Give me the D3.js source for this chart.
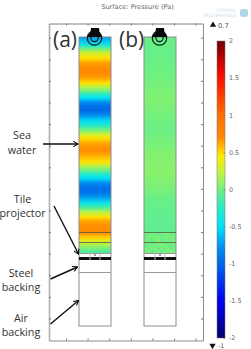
<!DOCTYPE html>
<html>
<head>
<meta charset="utf-8">
<script src="https://cdn.jsdelivr.net/npm/d3@7"></script>
<style>
html,body{margin:0;padding:0;background:#fff;}
svg{display:block;}
</style>
</head>
<body>
<svg id="chart" width="251" height="349"></svg>
<script>
// Depth below the water surface, in drawing units, with pressure read along the column.
const depthsA = [0,4,8,12,16,21,26,32,37,41,46,50,54,58,61,65,69,73,78,83,88,93,97,101,107,113,117,125,129,133,137,141,146,151,156,161,166,171,175,180,184,188,195,198,201,205,209,213,216];
const pressureA = [-0.72,-0.6,-0.35,0,0.3,0.47,0.64,0.7,0.7,0.64,0.47,0.2,0,-0.3,-0.5,-0.78,-0.95,-1,-0.82,-0.55,-0.3,0,0.25,0.47,0.64,0.7,0.64,0.47,0.2,0,-0.25,-0.5,-0.8,-0.97,-0.92,-0.7,-0.42,-0.1,0.2,0.47,0.62,0.68,0.7,0.62,0.5,0.3,0.12,-0.05,-0.12];
const depthsB = [0,20,40,60,75,90,105,120,135,150,165,185,195,216];
const pressureB = [-0.02,-0.03,0,0.05,0.02,-0.02,0.02,0.06,0.07,0.03,-0.03,-0.06,-0.05,-0.02];

// Mottled pressure inside the tile projector layers of the second column.
const mottleUpper = [
  [0.12,-0.02,0.15,0.02,-0.05,0.14,0.05,0.18,-0.03,0.1],
  [-0.04,0.16,0.03,0.18,0.06,-0.05,0.16,0.02,0.12,0.0],
  [0.14,0.04,-0.05,0.1,0.2,0.03,-0.04,0.12,0.06,0.15]
];
const mottleLower = [
  [0.05,0.16,-0.04,0.12,0.0,0.18,0.04,-0.08,0.14,0.02],
  [-0.1,0.04,0.18,-0.06,0.14,-0.02,0.2,0.06,-0.1,0.1],
  [0.16,-0.08,0.06,0.2,-0.1,0.1,-0.06,0.16,0.02,-0.05],
  [0.02,0.14,-0.12,0.04,0.16,-0.08,0.12,-0.04,0.18,0.06]
];

// Colour bar values and matching rainbow colours.
const legendTicks = [2,1.5,1,0.5,0,-0.5,-1,-1.5,-2];
const paletteValues = [2,1.75,1.5,1,0.7,0.45,0.2,0,-0.25,-0.5,-0.75,-1,-1.5,-2];
const paletteColors = ["#6e0000","#c00000","#ff1000","#ff7000","#ff8a00","#ffea00","#b8f24a","#70f080","#28e8c8","#00e2f4","#0096f0","#0068e8","#0000f0","#00006e"];
const pressureMax = 0.7;
const pressureMin = -1;

// Frame tick positions in the same units as the depths, and labelled column layers.
const frameDepthTicks = d3.range(0.7, 303, 21.6);
const frameWidthTicks = [17,38.6,60.2,81.8,103.4,125,146.6];
const columnLeft = [30,95];
const columnWidth = 32;
const layerDepths = {projector:195, upper:205, tileEnd:216, steelTop:220, steelEnd:223, airTop:235, end:289};
const columnCaptions = ["(a)","(b)"];
const calloutLines = [
  {lines:["Sea","water"], cx:22, y:[139,154]},
  {lines:["Tile","projector"], cx:22.5, y:[203,217]},
  {lines:["Steel","backing"], cx:21, y:[277,291]},
  {lines:["Air","backing"], cx:21, y:[322,336]}
];
const calloutArrows = [
  [[43,144],[78,144]],
  [[54,206],[78.5,254]],
  [[50.5,279],[77.5,267]],
  [[50.5,324],[78.5,300.5]]
];

const svg = d3.select("#chart");
const defs = svg.append("defs");

const x = d3.scaleLinear().domain([0,154]).range([49,203]);
const y = d3.scaleLinear().domain([-13.5,303.5]).range([23.5,340.5]);
const colour = d3.scaleLinear().domain(paletteValues).range(paletteColors).interpolate(d3.interpolateRgb).clamp(true);
const legendY = d3.scaleLinear().domain([-2,2]).range([338,41]);

function addGradient(id, depths, values){
  const top = depths[0], bottom = depths[depths.length-1];
  const g = defs.append("linearGradient").attr("id",id).attr("x1",0).attr("x2",0).attr("y1",0).attr("y2",1);
  g.selectAll("stop").data(values).join("stop")
    .attr("offset",(d,i)=>(depths[i]-top)/(bottom-top))
    .attr("stop-color",d=>colour(d));
}
addGradient("fieldA",depthsA,pressureA);
addGradient("fieldB",depthsB,pressureB);

// Pressure fields
svg.selectAll("rect.field").data(["fieldA","fieldB"]).join("rect")
  .attr("class","field")
  .attr("x",(d,i)=>x(columnLeft[i]))
  .attr("y",y(0))
  .attr("width",x(columnWidth)-x(0))
  .attr("height",y(layerDepths.tileEnd)-y(0))
  .attr("fill",d=>`url(#${d})`);

// Mottling over the lower layers of column b
function drawMottle(rows, fromDepth, toDepth){
  const bandY = d3.scaleBand().domain(d3.range(rows.length)).range([y(fromDepth),y(toDepth)]);
  const bandX = d3.scaleBand().domain(d3.range(rows[0].length)).range([x(columnLeft[1]),x(columnLeft[1]+columnWidth)]);
  rows.forEach((row,r)=>{
    svg.append("g").selectAll("rect").data(row).join("rect")
      .attr("x",(d,c)=>bandX(c)).attr("y",bandY(r))
      .attr("width",bandX.bandwidth()).attr("height",bandY.bandwidth())
      .attr("fill",d=>colour(d)).attr("opacity",0.4);
  });
}
drawMottle(mottleUpper,layerDepths.projector,layerDepths.upper);
drawMottle(mottleLower,layerDepths.upper,layerDepths.tileEnd);

// Column geometry: outlines, layer boundaries and the steel band
columnLeft.forEach(left=>{
  const L = x(left), R = x(left+columnWidth);
  const g = svg.append("g");
  g.append("rect").attr("x",L).attr("y",y(0)).attr("width",R-L).attr("height",y(layerDepths.end)-y(0))
    .attr("fill","none").attr("stroke","#8c8c8c").attr("stroke-width",1);
  [layerDepths.projector,layerDepths.upper].forEach(d=>{
    g.append("line").attr("x1",L).attr("x2",R).attr("y1",y(d)+.5).attr("y2",y(d)+.5)
      .attr("stroke","#5a5a40").attr("stroke-width",1).attr("opacity",.8);
  });
  [layerDepths.tileEnd,layerDepths.airTop].forEach(d=>{
    g.append("line").attr("x1",L).attr("x2",R).attr("y1",y(d)+.5).attr("y2",y(d)+.5)
      .attr("stroke","#999").attr("stroke-width",1);
  });
  g.append("rect").attr("x",L).attr("y",y(layerDepths.steelTop)).attr("width",R-L)
    .attr("height",y(layerDepths.steelEnd)-y(layerDepths.steelTop)).attr("fill","#111");
  [11,21].forEach(off=>{
    g.append("line").attr("x1",x(left+off)).attr("x2",x(left+off))
      .attr("y1",y(layerDepths.tileEnd)).attr("y2",y(layerDepths.steelEnd))
      .attr("stroke","#bbb").attr("stroke-width",1);
  });
  g.append("circle").attr("cx",x(left+16)).attr("cy",y(layerDepths.tileEnd+2)).attr("r",.8).attr("fill","#222");

  // Source at the head of the column
  const cx = x(left+16), cy = y(1);
  g.append("circle").attr("cx",cx-.5).attr("cy",cy).attr("r",7.2).attr("fill","none").attr("stroke","#0b1a22").attr("stroke-width",1.3);
  g.append("circle").attr("cx",cx-.5).attr("cy",cy).attr("r",3.6).attr("fill","none").attr("stroke","#0b1a22").attr("stroke-width",1.2);
  const head = d3.path();
  head.moveTo(cx-4,y(-9)); head.lineTo(cx+4,y(-9)); head.lineTo(cx+4.5,y(-5));
  head.lineTo(cx+7.5,y(0)); head.lineTo(cx-8,y(0)); head.lineTo(cx-4.5,y(-5)); head.closePath();
  g.append("path").attr("d",head.toString()).attr("fill","#0a0a0a");
});

// Frame axes
function styleAxis(sel, colourName, width){
  sel.selectAll("path").attr("stroke",colourName).attr("stroke-width",width);
  sel.selectAll("line").attr("stroke","#777").attr("stroke-width",1);
  sel.selectAll("text").remove();
}
const blank = ()=>"";
svg.append("g").attr("transform","translate(49,0)")
  .call(d3.axisRight(y).tickValues(frameDepthTicks).tickSizeInner(2).tickSizeOuter(0).tickFormat(blank))
  .call(styleAxis,"#b0b0b0",1.6);
svg.append("g").attr("transform","translate(203,0)")
  .call(d3.axisLeft(y).tickValues(frameDepthTicks).tickSizeInner(2).tickSizeOuter(0).tickFormat(blank))
  .call(styleAxis,"#8c8c8c",1);
svg.append("g").attr("transform","translate(0,23.5)")
  .call(d3.axisBottom(x).tickValues(frameWidthTicks).tickSizeInner(2).tickSizeOuter(0).tickFormat(blank))
  .call(styleAxis,"#808080",1);
svg.append("g").attr("transform","translate(0,340.5)")
  .call(d3.axisTop(x).tickValues(frameWidthTicks).tickSizeInner(2).tickSizeOuter(0).tickFormat(blank))
  .call(styleAxis,"#8c8c8c",1);

// Title
svg.append("text").attr("x",137.5).attr("y",8.5).attr("text-anchor","middle")
  .attr("font-family","DejaVu Sans").attr("font-size",6.6).attr("fill","#666")
  .text("Surface: Pressure (Pa)");

// Faint product mark in the corner
const mark = svg.append("g").attr("font-family","DejaVu Sans").attr("fill","#c9dcec").attr("text-anchor","end");
mark.append("text").attr("x",236).attr("y",11.5).attr("font-size",4.6).text("COMSOL");
mark.append("text").attr("x",236).attr("y",16.5).attr("font-size",4.6).text("MULTIPHYSICS");
svg.append("rect").attr("x",240).attr("y",9).attr("width",8).attr("height",8).attr("rx",2.5).attr("fill","#b4d4e8");

// Column captions
svg.selectAll("text.caption").data(columnCaptions).join("text").attr("class","caption")
  .attr("x",(d,i)=>[53,119][i]).attr("y",47)
  .attr("font-family","Open Sans").attr("font-size",21).attr("fill","#333")
  .text(d=>d);

// Callout labels
calloutLines.forEach(c=>{
  c.lines.forEach((t,i)=>{
    svg.append("text").attr("x",c.cx).attr("y",c.y[i]).attr("text-anchor","middle")
      .attr("font-family","Open Sans").attr("font-size",10.8).attr("fill","#333").text(t);
  });
});

// Callout arrows
defs.append("marker").attr("id","tip").attr("viewBox","0 0 10 10").attr("refX",9).attr("refY",5)
  .attr("markerWidth",6).attr("markerHeight",6).attr("orient","auto").attr("markerUnits","userSpaceOnUse")
  .append("path").attr("d","M1,0.5 L9,5 L1,9.5").attr("fill","none").attr("stroke","#111").attr("stroke-width",1.8);
const arrowLine = d3.line();
svg.selectAll("path.arrow").data(calloutArrows).join("path").attr("class","arrow")
  .attr("d",arrowLine).attr("fill","none").attr("stroke","#111").attr("stroke-width",1.4)
  .attr("marker-end","url(#tip)");

// Colour bar
const barGrad = defs.append("linearGradient").attr("id","bar").attr("x1",0).attr("x2",0).attr("y1",0).attr("y2",1);
barGrad.selectAll("stop").data(paletteValues).join("stop")
  .attr("offset",d=>(2-d)/4).attr("stop-color",d=>colour(d));
svg.append("rect").attr("x",217).attr("y",legendY(2)).attr("width",8)
  .attr("height",legendY(-2)-legendY(2)).attr("fill","url(#bar)")
  .attr("stroke","#777").attr("stroke-width",.5);
const legendAxis = svg.append("g").attr("transform","translate(225,0)")
  .call(d3.axisLeft(legendY).tickValues(legendTicks).tickSize(1.5).tickFormat(""));
legendAxis.select("path").remove();
legendAxis.selectAll("line").attr("stroke","#555").attr("stroke-width",.6);
svg.selectAll("text.legend").data(legendTicks).join("text").attr("class","legend")
  .attr("x",229).attr("y",d=>legendY(d)+2.3)
  .attr("font-family","DejaVu Sans").attr("font-size",6.4).attr("fill","#666")
  .text(d=>String(d));

// Surface extremes
const tri = d3.symbol().type(d3.symbolTriangle).size(17);
svg.append("path").attr("d",tri()).attr("transform","translate(213,25)").attr("fill","#111");
svg.append("path").attr("d",tri()).attr("transform","translate(212.5,345.5) rotate(180)").attr("fill","#111");
svg.append("text").attr("x",218).attr("y",27.5).attr("font-family","DejaVu Sans").attr("font-size",6.8).attr("fill","#555").text(String(pressureMax));
svg.append("text").attr("x",218).attr("y",347.5).attr("font-family","DejaVu Sans").attr("font-size",6.2).attr("fill","#555").text(String(pressureMin));
</script>
</body>
</html>
